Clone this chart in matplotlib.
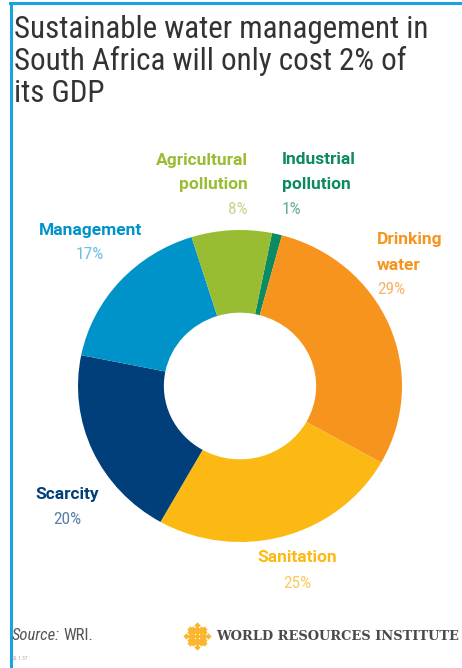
import numpy as np
import matplotlib
matplotlib.use('Agg')
import matplotlib.pyplot as plt
from matplotlib import font_manager

# data (clockwise from the top)
labels = ['Industrial\npollution', 'Drinking\nwater', 'Sanitation', 'Scarcity', 'Management', 'Agricultural\npollution']
shares = [1, 29, 25, 20, 17, 8]
colors = ['#0c8a62', '#f7941d', '#fdb913', '#003f7a', '#0093c9', '#98bd32']
pct_colors = ['#5faf93', '#f9b46a', '#fdc95c', '#5b7fa9', '#6cc0e2', '#c3d98a']

W, H = 462, 668
installed = set(f.name for f in font_manager.fontManager.ttflist)

def pick(*names):
    for n in names:
        if n in installed:
            return n
    return 'DejaVu Sans'

cond = pick('Roboto Condensed', 'Liberation Sans Narrow', 'DejaVu Sans Condensed', 'Roboto')
lab_font = pick('Roboto', 'DejaVu Sans')

def fx(px):
    return px / W

def fy(py):
    return 1 - py / H

fig = plt.figure(figsize=(W / 100, H / 100), dpi=100)

# frame lines (top and left)
fig.add_artist(plt.Line2D([fx(10), 1], [fy(3), fy(3)], color='#19a3e1', lw=2.2))
fig.add_artist(plt.Line2D([fx(11), fx(11)], [0, fy(3)], color='#19a3e1', lw=2.2))

fig.text(fx(14), fy(15), 'Sustainable water management in\nSouth Africa will only cost 2% of\nits GDP',
         ha='left', va='top', fontsize=22.3, family=cond, color='#333333', linespacing=1.1)

# donut
cx, cy, rx, ry = 240, 386, 162, 156
ax = fig.add_axes([fx(cx - rx), fy(cy + ry), 2 * rx / W, 2 * ry / H])
ax.pie(shares, colors=colors, startangle=78.6, counterclock=False,
       wedgeprops=dict(width=0.53, linewidth=0))
ax.set_aspect('auto')
ax.set_xlim(-1, 1)
ax.set_ylim(-1, 1)
ax.axis('off')

# label positions in pixels: (x, y of first line, ha)
lab_pos = [(282, 160, 'left'), (377, 240, 'left'), (297, 558, 'center'),
           (67, 495, 'center'), (90, 230, 'center'), (248, 160, 'right')]
for lab, s, c, pc, (x, y, ha) in zip(labels, shares, colors, pct_colors, lab_pos):
    lines = lab.split('\n')
    for i, line in enumerate(lines):
        fig.text(fx(x), fy(y + 25 * i), line, ha=ha, va='center', fontsize=12.5,
                 fontweight='bold', family=lab_font, color=c)
    fig.text(fx(x), fy(y + 25 * len(lines)), f'{s}%', ha=ha, va='center', fontsize=12.5,
             family=cond, color=pc)

# footer
fig.text(fx(12), fy(636), 'Source:', ha='left', va='center', fontsize=12, style='italic',
         family=cond, color='#555555')
fig.text(fx(63), fy(636), 'WRI.', ha='left', va='center', fontsize=12, family=cond, color='#555555')
fig.text(fx(12), fy(658), '20.1.37', ha='left', va='center', fontsize=4, family=cond, color='#aaaaaa')

# logo: dotted orange circle
t = np.linspace(-1, 1, 7)
gx, gy = np.meshgrid(t, t)
m = gx ** 2 + gy ** 2 <= 1.1
fig.add_artist(plt.Line2D(fx(197 + gx[m] * 11), fy(636 + gy[m] * 11), ls='none', marker='D',
                          ms=3.2, mfc='#fbb62d', mec='none'))
fig.text(fx(216), fy(637), 'WORLD RESOURCES INSTITUTE', ha='left', va='center', fontsize=9.4,
         family='DejaVu Serif', fontweight='bold', color='#4a4a4a')

fig.savefig('out.png', dpi=100)
